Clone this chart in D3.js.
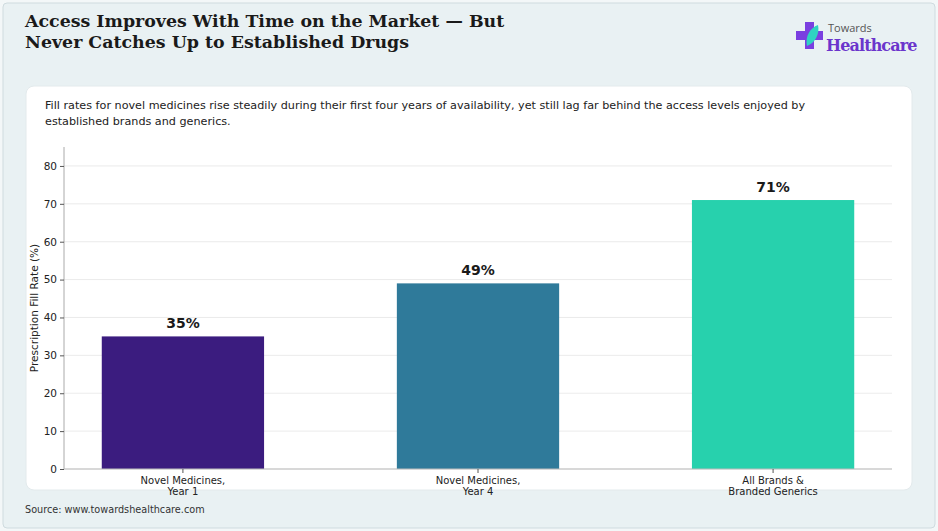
<!DOCTYPE html>
<html>
<head>
<meta charset="utf-8">
<script src="https://cdn.jsdelivr.net/npm/d3@7"></script>
<style>
  html, body { margin: 0; padding: 0; background: #f3f7f8; }
  svg { display: block; }
</style>
</head>
<body>
<div id="chart"></div>
<script>
/* DATA */
const categories = [["Novel Medicines,", "Year 1"], ["Novel Medicines,", "Year 4"], ["All Brands &", "Branded Generics"]];
const fillRates = [35, 49, 71];
const barColors = ["#3b1c7f", "#2f7a9a", "#27d1ad"];
const yTicks = [0, 10, 20, 30, 40, 50, 60, 70, 80];

const titleLines = ["Access Improves With Time on the Market \u2014 But", "Never Catches Up to Established Drugs"];
const subtitleLines = [
  "Fill rates for novel medicines rise steadily during their first four years of availability, yet still lag far behind the access levels enjoyed by",
  "established brands and generics."
];

/* CONSTANTS */
const width = 938, height = 531;
const plot = { left: 64, right: 892, top: 147, bottom: 469 };

const svg = d3.select("#chart")
  .append("svg")
    .attr("width", width)
    .attr("height", height);

// outer panel
svg.append("rect")
  .attr("x", 3).attr("y", 3)
  .attr("width", 932).attr("height", 525)
  .attr("rx", 4)
  .attr("fill", "#e9f1f3")
  .attr("stroke", "#cfdbdf");

// white card
svg.append("rect")
  .attr("x", 26).attr("y", 86)
  .attr("width", 886).attr("height", 404)
  .attr("rx", 8)
  .attr("fill", "#ffffff")
  .attr("stroke", "#e3eaec");

// title
svg.append("g")
  .selectAll("text")
  .data(titleLines)
  .join("text")
    .attr("x", 25)
    .attr("y", (d, i) => 27 + i * 20.5)
    .attr("font-family", "DejaVu Serif")
    .attr("font-weight", "bold")
    .attr("font-size", 17.4)
    .attr("fill", "#1a1a1a")
    .text(d => d);

// subtitle
svg.append("g")
  .selectAll("text")
  .data(subtitleLines)
  .join("text")
    .attr("x", 45)
    .attr("y", (d, i) => 109 + i * 15.5)
    .attr("font-family", "DejaVu Sans")
    .attr("font-size", 11.2)
    .attr("fill", "#222")
    .text(d => d);

// logo
const logo = svg.append("g").attr("transform", "translate(796,22)");
logo.append("path")
  .attr("d", "M9,0 H18 V9 H27 V18 H18 V27 H9 V18 H0 V9 H9 Z")
  .attr("fill", "#7a3fe0");
logo.append("path")
  .attr("d", "M11,24 C9,14 14,6 22,3 C24,12 19,21 11,24 Z")
  .attr("fill", "#2fd3c2");
logo.append("text")
  .attr("x", 32).attr("y", 10)
  .attr("font-family", "Open Sans")
  .attr("font-size", 11)
  .attr("fill", "#555")
  .text("Towards");
logo.append("text")
  .attr("x", 30).attr("y", 29)
  .attr("font-family", "DejaVu Serif")
  .attr("font-weight", "bold")
  .attr("font-size", 16)
  .attr("letter-spacing", -0.9)
  .attr("fill", "#6b35cc")
  .text("Healthcare");

/* SCALES */
const xScale = d3.scaleBand()
  .domain(d3.range(categories.length))
  .range([plot.left, plot.right])
  .paddingInner(0.45)
  .paddingOuter(0.128);

const yScale = d3.scaleLinear()
  .domain([0, 85])
  .range([plot.bottom, plot.top]);

// gridlines
svg.append("g")
  .selectAll("line")
  .data(yTicks)
  .join("line")
    .attr("x1", plot.left).attr("x2", plot.right)
    .attr("y1", d => yScale(d)).attr("y2", d => yScale(d))
    .attr("stroke", "#e6e6e6")
    .attr("stroke-width", 0.8);

// bars
svg.append("g")
  .selectAll("rect")
  .data(fillRates)
  .join("rect")
    .attr("x", (d, i) => xScale(i))
    .attr("y", d => yScale(d))
    .attr("width", xScale.bandwidth())
    .attr("height", d => yScale(0) - yScale(d))
    .attr("fill", (d, i) => barColors[i]);

// value labels
svg.append("g")
  .selectAll("text")
  .data(fillRates)
  .join("text")
    .attr("x", (d, i) => xScale(i) + xScale.bandwidth() / 2)
    .attr("y", d => yScale(d) - 8)
    .attr("text-anchor", "middle")
    .attr("font-family", "DejaVu Sans")
    .attr("font-weight", "bold")
    .attr("font-size", 14)
    .attr("fill", "#1a1a1a")
    .text(d => d + "%");

/* AXES */
const yAxis = svg.append("g")
  .attr("transform", `translate(${plot.left},0)`)
  .call(d3.axisLeft(yScale).tickValues(yTicks).tickSize(4).tickPadding(3));
yAxis.selectAll("text")
  .attr("font-family", "DejaVu Sans")
  .attr("font-size", 10.5)
  .attr("fill", "#222");
yAxis.select(".domain").attr("stroke", "#aaa").attr("d", `M0,${plot.bottom}V${plot.top}`);
yAxis.selectAll(".tick line").attr("stroke", "#555");

const xAxis = svg.append("g")
  .attr("transform", `translate(0,${plot.bottom})`)
  .call(d3.axisBottom(xScale).tickSize(4).tickFormat(""));
xAxis.select(".domain").attr("stroke", "#bbb").attr("stroke-width", 1.2).attr("d", `M${plot.left},0H${plot.right}`);
xAxis.selectAll(".tick line").attr("stroke", "#555");
xAxis.selectAll(".tick")
  .append("text")
    .attr("text-anchor", "middle")
    .attr("font-family", "DejaVu Sans")
    .attr("font-size", 10)
    .attr("fill", "#222")
  .selectAll("tspan")
  .data(i => categories[i])
  .join("tspan")
    .attr("x", 0)
    .attr("y", (d, j) => 15 + j * 11)
    .text(d => d);

// y label
svg.append("text")
  .attr("transform", `translate(38,${(plot.top + plot.bottom) / 2}) rotate(-90)`)
  .attr("text-anchor", "middle")
  .attr("font-family", "DejaVu Sans")
  .attr("font-size", 10.5)
  .attr("fill", "#222")
  .text("Prescription Fill Rate (%)");

// source
svg.append("text")
  .attr("x", 25).attr("y", 513)
  .attr("font-family", "DejaVu Sans")
  .attr("font-size", 9.7)
  .attr("fill", "#333")
  .text("Source: www.towardshealthcare.com");
</script>
</body>
</html>
